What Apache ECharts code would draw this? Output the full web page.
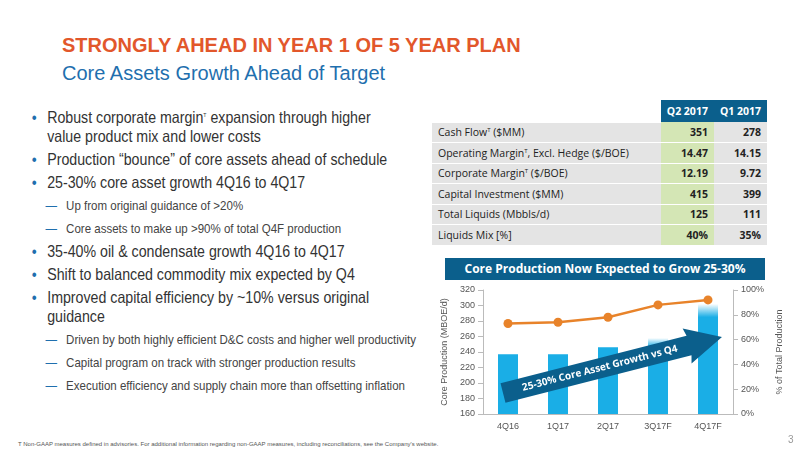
<!DOCTYPE html>
<html><head><meta charset="utf-8">
<script src="https://cdn.jsdelivr.net/npm/echarts@6/dist/echarts.min.js"></script>
<style>
body{margin:0;width:800px;height:450px;position:relative;background:#fff;font-family:"Liberation Sans",Arial,sans-serif;overflow:hidden}
.t1{position:absolute;left:62px;top:34px;font-size:20px;font-weight:bold;color:#e2572b}
.t2{position:absolute;left:62px;top:62px;font-size:20px;color:#1f6fae}
.bul{position:absolute;left:30px;top:108px;width:445px;transform:scaleX(0.86);transform-origin:0 0;color:#333}
.b{font-size:16.5px;margin:0 0 4px 0;padding-left:20px;position:relative;line-height:19px;white-space:nowrap}
.b:before{content:"•";position:absolute;left:2px;color:#1f6fae}
.s{font-size:13.4px;margin:0 0 4px 0;padding-left:42px;position:relative;color:#444;line-height:19px;white-space:nowrap}
.s:before{content:"—";position:absolute;left:18px;color:#1f6fae}
table{position:absolute;left:432px;top:100px;width:335px;border-collapse:collapse;font-family:"Open Sans",sans-serif;font-size:10.5px;color:#222;white-space:nowrap}
td{height:19.5px;padding:0 6px;border-bottom:1px solid #fff;background:#e4e4e4;line-height:12px}
td.n{text-align:right;font-weight:bold;width:40px}
td.g{background:#d4e6b5}
th{background:#0b5f8c;color:#fff;font-weight:bold;height:22px;text-align:right;padding:0 6px;width:40px}
sup{font-size:6px;line-height:0}
.banner{position:absolute;left:445px;top:258px;width:320px;height:22px;background:#0b5f8c;color:#fff;font-weight:bold;font-size:12px;text-align:center;line-height:22px;font-family:"Open Sans",sans-serif}
#c{position:absolute;left:425px;top:280px;width:375px;height:160px}
.foot{position:absolute;left:18px;top:441px;font-size:6px;color:#555}
.pg{position:absolute;left:788px;top:434px;font-size:10px;color:#999}
</style></head><body>
<div class="t1">STRONGLY AHEAD IN YEAR 1 OF 5 YEAR PLAN</div>
<div class="t2">Core Assets Growth Ahead of Target</div>
<div class="bul">
<div class="b">Robust corporate margin<sup>T</sup> expansion through higher<br>value product mix and lower costs</div>
<div class="b">Production “bounce” of core assets ahead of schedule</div>
<div class="b">25-30% core asset growth 4Q16 to 4Q17</div>
<div class="s">Up from original guidance of &gt;20%</div>
<div class="s">Core assets to make up &gt;90% of total Q4F production</div>
<div class="b">35-40% oil &amp; condensate growth 4Q16 to 4Q17</div>
<div class="b">Shift to balanced commodity mix expected by Q4</div>
<div class="b">Improved capital efficiency by ~10% versus original<br>guidance</div>
<div class="s">Driven by both highly efficient D&amp;C costs and higher well productivity</div>
<div class="s">Capital program on track with stronger production results</div>
<div class="s">Execution efficiency and supply chain more than offsetting inflation</div>
</div>
<table id="tb"></table>
<div class="banner">Core Production Now Expected to Grow 25-30%</div>
<div id="c"></div>
<div class="foot">T Non-GAAP measures defined in advisories. For additional information regarding non-GAAP measures, including reconciliations, see the Company's website.</div>
<div class="pg">3</div>
<script>
const categories=["4Q16","1Q17","2Q17","3Q17F","4Q17F"];
const coreProduction=[237,237,246,258,302];
const pctOfTotal=[73,74,78,88,92];
const tableRows=["Cash Flow<sup>T</sup> ($MM)","Operating Margin<sup>T</sup>, Excl. Hedge ($/BOE)","Corporate Margin<sup>T</sup> ($/BOE)","Capital Investment ($MM)","Total Liquids (Mbbls/d)","Liquids Mix [%]"];
const q2_2017=["351","14.47","12.19","415","125","40%"];
const q1_2017=["278","14.15","9.72","399","111","35%"];
let h='<tr><td style="background:#fff"></td><th>Q2 2017</th><th>Q1 2017</th></tr>';
tableRows.forEach((r,i)=>{h+=`<tr><td>${r}</td><td class="n g">${q2_2017[i]}</td><td class="n">${q1_2017[i]}</td></tr>`});
document.getElementById('tb').innerHTML=h;
const ch=echarts.init(document.getElementById('c'));
const fade=new echarts.graphic.LinearGradient(0,0,0,1,[{offset:0,color:'#ffffff'},{offset:0.12,color:'#1aaee6'},{offset:1,color:'#1aaee6'}]);
ch.setOption({
animation:false,
grid:{left:58,right:67,top:10,bottom:26},
xAxis:{type:'category',data:categories,axisLine:{lineStyle:{color:'#bbb'}},axisTick:{show:false},axisLabel:{color:'#555',fontSize:9}},
yAxis:[{type:'value',min:160,max:320,interval:20,name:'Core Production (MBOE/d)',nameLocation:'middle',nameGap:30,nameTextStyle:{color:'#555',fontSize:9},axisLine:{show:true,lineStyle:{color:'#bbb'}},axisTick:{show:true},splitLine:{show:false},axisLabel:{color:'#555',fontSize:9}},
{type:'value',min:0,max:100,interval:20,name:'% of Total Production',nameLocation:'middle',nameGap:38,nameRotate:90,nameTextStyle:{color:'#555',fontSize:9},axisLine:{show:true,lineStyle:{color:'#bbb'}},axisTick:{show:true},splitLine:{show:false},axisLabel:{color:'#555',fontSize:9,formatter:'{value}%'}}],
series:[{type:'bar',data:coreProduction.map((v,i)=>i>=3?{value:v,itemStyle:{color:fade}}:v),barWidth:20,itemStyle:{color:'#1aaee6'}},
{type:'line',yAxisIndex:1,data:pctOfTotal,symbol:'circle',symbolSize:9,lineStyle:{color:'#e8832a',width:2.5},itemStyle:{color:'#e8832a'}}],
graphic:[{type:'group',x:78,y:113,rotation:0.25,z:100,children:[
{type:'polygon',z:100,shape:{points:[[0,-10],[192,-10],[190,-18],[226,0],[190,18],[192,10],[0,10]]},style:{fill:'#0b5f8c'}},
{type:'text',z:101,x:100,y:0,style:{text:'25-30% Core Asset Growth vs Q4',fill:'#fff',font:'bold 10px "Open Sans",sans-serif',align:'center',verticalAlign:'middle'}}]}]
});
</script>
</body></html>
